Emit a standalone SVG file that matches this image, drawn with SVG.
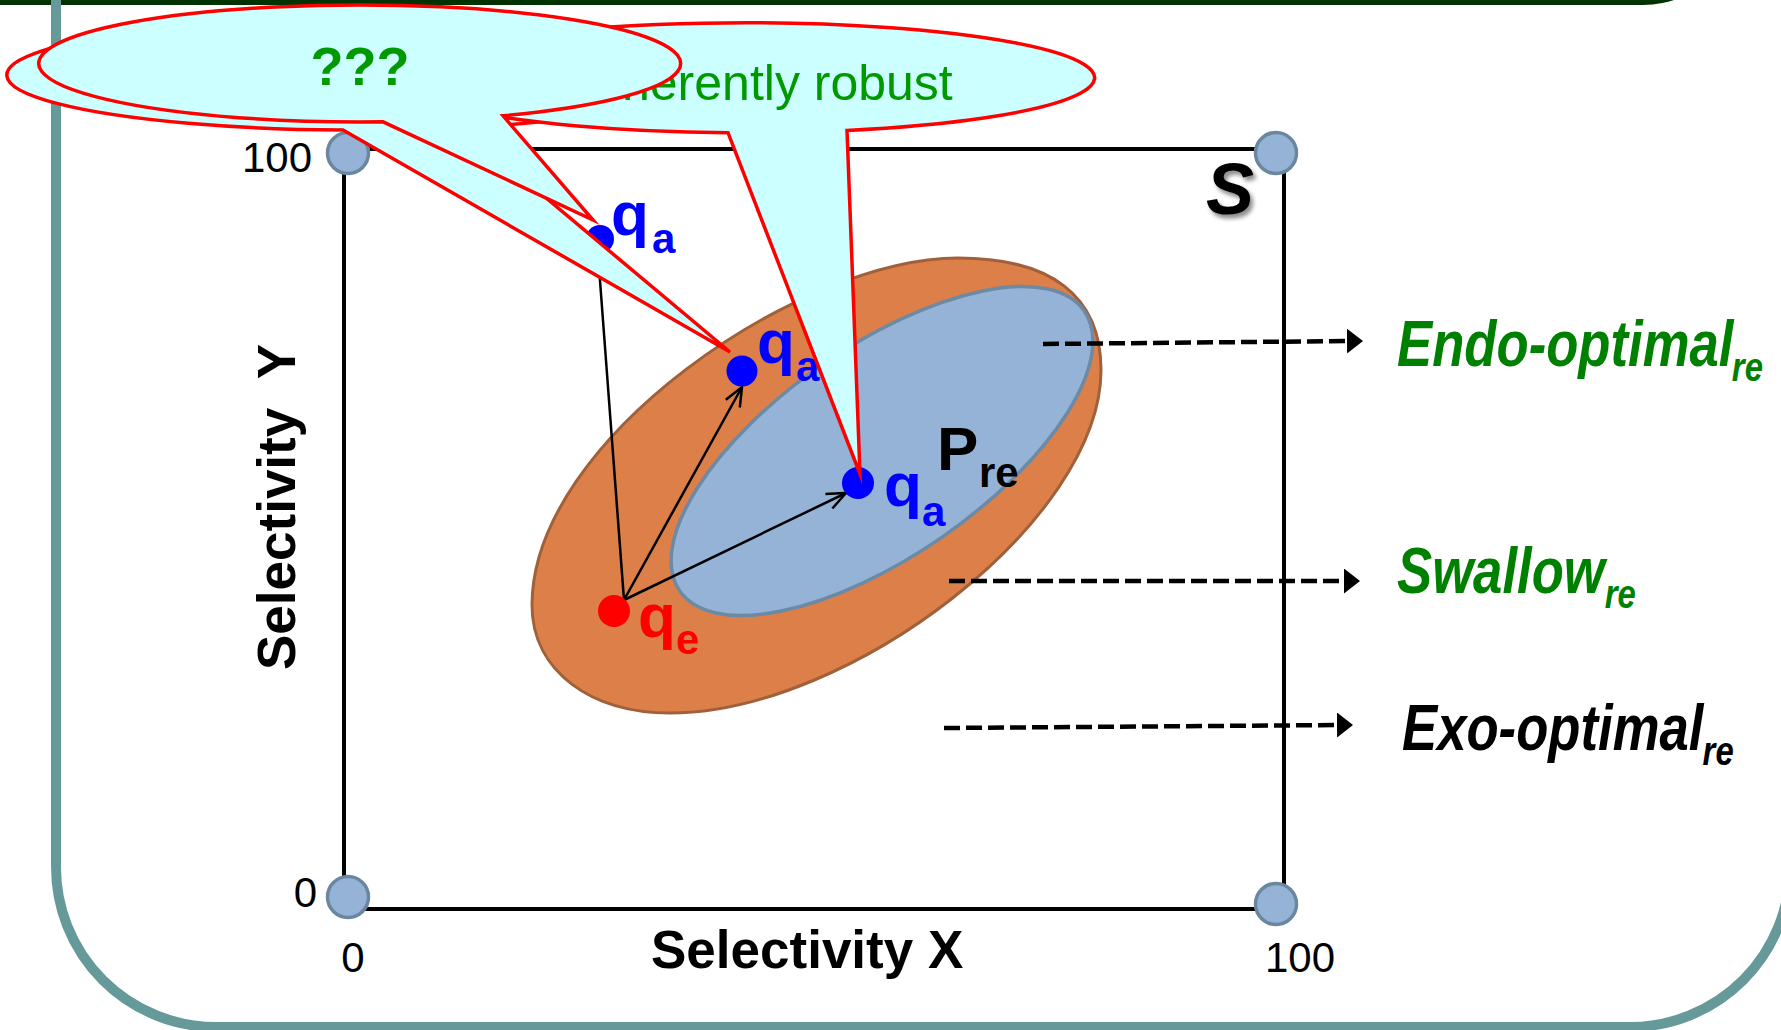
<svg xmlns="http://www.w3.org/2000/svg" width="1781" height="1030" viewBox="0 0 1781 1030">
<style>
.ax{stroke:#000;stroke-width:4;fill:none}
.corner{fill:#95b3d7;stroke:#6b87a0;stroke-width:3.5}
.tick{font-family:"Liberation Sans",Arial,sans-serif;font-size:42px;fill:#000}
.title{font-family:"Liberation Sans",Arial,sans-serif;font-weight:bold;font-size:53px;fill:#000}
.q{font-family:"Liberation Sans",Arial,sans-serif;font-weight:bold;font-size:62px}
.sub{font-size:42px}
.cat{font-family:"Liberation Sans",Arial,sans-serif;font-weight:bold;font-style:italic;font-size:64px}
.catsub{font-size:40px}
.dash{stroke:#000;stroke-width:4.5;stroke-dasharray:16 6;fill:none}
.arr{stroke:#000;stroke-width:2.5;fill:none}
.call{fill:#ccffff;stroke:#ff0000;stroke-width:3.5;stroke-linejoin:miter;stroke-miterlimit:10}
.blue{fill:#0000ff}
</style>
<defs>
<marker id="tri" viewBox="0 0 16 25" refX="4" refY="12.5" markerWidth="16" markerHeight="25" markerUnits="userSpaceOnUse" orient="auto">
<path d="M0,0 L16,12.5 L0,25 Z" fill="#000"/>
</marker>
<marker id="open" viewBox="0 0 22 22" refX="21" refY="11" markerWidth="22" markerHeight="22" markerUnits="userSpaceOnUse" orient="auto">
<path d="M2,3 L21,11 L2,19" fill="none" stroke="#000" stroke-width="2.5"/>
</marker>
<filter id="shadow" x="-30%" y="-30%" width="160%" height="160%">
<feDropShadow dx="3" dy="4" stdDeviation="2" flood-color="#000" flood-opacity="0.45"/>
</filter>
</defs>

<rect width="1781" height="1030" fill="#ffffff"/>

<g id="frame">
<rect x="-200" y="-300" width="1942" height="305" rx="99" fill="#003300"/>
<path d="M56,-20 V867 A160,160 0 0 0 216,1027 H1630 A160,160 0 0 0 1790,867 V-20" fill="none" stroke="#669999" stroke-width="10"/>
</g>

<g id="axes">
<polyline class="ax" points="344,897 344,149 1284,149 1284,904"/>
<line class="ax" x1="344" y1="909" x2="1276" y2="909"/>
</g>

<g id="regions">
<path id="swallow-region" d="M532,605 C532,672 592,713 670,713 C850,713 1101,520 1101,370 C1101,295 1050,258 958,258 C800,258 532,440 532,605 Z" fill="#dc7f48" stroke="#a0603a" stroke-width="3"/>
<ellipse id="endo-region" cx="0" cy="0" rx="246" ry="105" transform="translate(882 451) rotate(-34.7)" fill="#95b3d7" stroke="#6d8aa4" stroke-width="3.5"/>
</g>

<g id="corner-nodes">
<circle id="c00" class="corner" cx="348" cy="897" r="20.5"/>
<circle id="c0100" class="corner" cx="348" cy="153" r="20.5"/>
<circle id="c1000" class="corner" cx="1276" cy="904" r="20.5"/>
<circle id="c100100" class="corner" cx="1276" cy="153" r="20.5"/>
</g>

<g id="axis-labels">
<text class="tick" x="312" y="172" text-anchor="end">100</text>
<text class="tick" x="317" y="907" text-anchor="end">0</text>
<text class="tick" x="353" y="972" text-anchor="middle">0</text>
<text class="tick" x="1300" y="972" text-anchor="middle">100</text>
<text class="title" x="651" y="968">Selectivity X</text>
<text class="title" transform="translate(295 670) rotate(-90)" style="white-space:pre">Selectivity  Y</text>
<text x="1206" y="214" font-family="Liberation Sans,Arial,sans-serif" font-weight="bold" font-style="italic" font-size="72" filter="url(#shadow)">S</text>
</g>

<g id="connectors">
<line class="dash" x1="1043" y1="344" x2="1351" y2="341" marker-end="url(#tri)"/>
<line class="dash" x1="949" y1="581" x2="1348" y2="581" marker-end="url(#tri)"/>
<line class="dash" x1="944" y1="728" x2="1341" y2="725" marker-end="url(#tri)"/>
<line class="arr" x1="624" y1="600" x2="598" y2="254" marker-end="url(#open)"/>
<line class="arr" x1="624" y1="600" x2="742" y2="387" marker-end="url(#open)"/>
<line class="arr" x1="624" y1="600" x2="846" y2="493" marker-end="url(#open)"/>
</g>

<g id="category-labels">
<text class="cat" transform="translate(1397 366) scale(0.823 1)" fill="#008000">Endo-optimal<tspan class="catsub" dx="-2" dy="15">re</tspan></text>
<text class="cat" transform="translate(1397 593) scale(0.823 1)" fill="#008000">Swallow<tspan class="catsub" dx="0" dy="15">re</tspan></text>
<text class="cat" transform="translate(1402 750) scale(0.823 1)" fill="#000">Exo-optimal<tspan class="catsub" dx="-1" dy="15">re</tspan></text>
</g>

<g id="points">
<g id="qe">
<circle cx="614" cy="611" r="16" fill="#ff0000"/>
<text class="q" x="638" y="637" fill="#ff0000">q<tspan class="sub" x="676" y="654">e</tspan></text>
</g>
<g id="qa-upper">
<circle class="blue" cx="600" cy="239" r="14"/>
<text class="q blue" x="611" y="235">q<tspan class="sub" x="652" y="253">a</tspan></text>
</g>
<g id="qa-middle">
<circle class="blue" cx="742" cy="371" r="15.5"/>
<text class="q blue" x="757" y="363">q<tspan class="sub" x="796" y="381">a</tspan></text>
</g>
<g id="qa-inner">
<circle class="blue" cx="858" cy="483" r="16"/>
<text class="q blue" x="884" y="506">q<tspan class="sub" x="922" y="526">a</tspan></text>
</g>
<g id="pre">
<text class="q" x="937" y="470" fill="#000">P<tspan class="sub" x="979" y="487">re</tspan></text>
</g>
</g>

<g id="callouts">
<path id="callout-c" class="call" d="M462,127.5 A350,55 0 1 0 343,130 L730,352 Z"/>
<g id="callout-b">
<path class="call" d="M847,130.4 A349,55 0 1 0 728,132.7 L860,474 Z"/>
<text x="622" y="100" font-family="Liberation Sans,Arial,sans-serif" font-size="50" fill="#009900">herently robust</text>
</g>
<g id="callout-f">
<path class="call" d="M503,115.8 A321,58.5 0 1 0 383,121.8 L593,220 Z"/>
<text x="360" y="85" text-anchor="middle" font-family="Liberation Sans,Arial,sans-serif" font-weight="bold" font-size="54" fill="#009900">???</text>
</g>
</g>
</svg>
